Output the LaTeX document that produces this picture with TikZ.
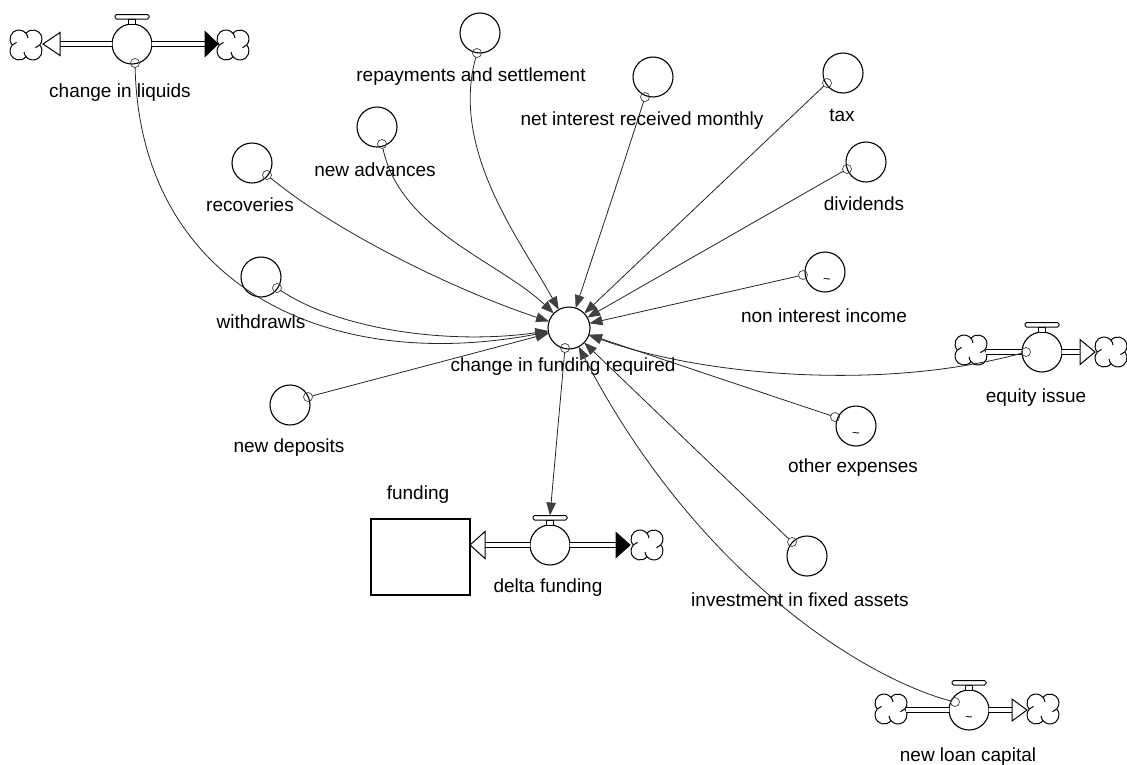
\documentclass[tikz,border=0pt]{standalone}
\usepackage{fontspec}
\setmainfont{Liberation Sans}
\usetikzlibrary{arrows.meta,calc}

% valve handle on top of a flow valve
\newcommand\vhandle[1]{%
  \draw[handle] ([shift={(-3.5,0)}]#1.north) rectangle ([shift={(3.5,-5)}]#1.north);
  \draw[handle, rounded corners=1.5pt] ([shift={(-17,-5)}]#1.north) rectangle ([shift={(17,-9.5)}]#1.north);}

% four-lobed source/sink cloud with inner curls, centred on a node
\newcommand\vcloud[1]{%
  \draw[cloudline, fill=white] ([shift={(0,-11.66)}]#1.center)
     arc[start angle=-38.96, end angle=-221.84, radius=9]
     arc[start angle=221.84, end angle=38.96, radius=9]
     arc[start angle=141.04, end angle=-41.84, radius=9]
     arc[start angle=41.84, end angle=-141.04, radius=9] -- cycle;
  \draw[cloudline] ([shift={(0,-11.66)}]#1.center) arc[start angle=-38.96, end angle=-6, radius=9];
  \draw[cloudline] ([shift={(-13.7,0)}]#1.center) arc[start angle=221.84, end angle=254, radius=9];
  \draw[cloudline] ([shift={(0,11.66)}]#1.center) arc[start angle=141.04, end angle=174, radius=9];
  \draw[cloudline] ([shift={(13.7,0)}]#1.center) arc[start angle=41.84, end angle=74, radius=9];}

\begin{document}
\begin{tikzpicture}[x=1pt,y=-1pt,
  every node/.style={inner sep=0pt, outer sep=0pt},
  aux/.style={circle, draw, line width=1.1pt, minimum size=40pt},
  valve/.style={circle, draw, line width=1.1pt, minimum size=40pt, fill=white},
  port/.style={circle, draw=black!75, line width=0.7pt, minimum size=9pt},
  cloudy/.style={circle, minimum size=30pt},
  cloudline/.style={draw, line width=1pt},
  lbl/.style={font=\fontsize{19}{22}\selectfont},
  tld/.style={font=\fontsize{13}{13}\selectfont},
  link/.style={draw=black!85, line width=0.8pt,
               -{Triangle[length=13pt,width=9.5pt,color=black!75]}},
  pipe/.style={draw, line width=1pt, double=white, double distance=3.5pt},
  headopen/.style={draw, line width=1pt, fill=white, line join=miter},
  headfull/.style={draw, line width=1pt, fill=black, line join=miter},
  handle/.style={draw, line width=1pt, fill=white},
  stock/.style={draw, line width=1.1pt, fill=white}
]
\fill[white] (0,0) rectangle (1127,764);
\useasboundingbox (0,0) rectangle (1127,764);

% ---------- central auxiliary ----------
\node[aux, minimum size=42pt] (cfr) at (569,328) {};
\node[lbl] (cfr-l) at (563,367) {change in funding required};

% ---------- auxiliaries ----------
\node[aux] (rep) at (480,33) {};
\node[lbl] (rep-l) at (471,77) {repayments and settlement};
\node[aux] (adv) at (377,127) {};
\node[lbl] (adv-l) at (375,170) {new advances};
\node[aux] (rec) at (252,163) {};
\node[lbl] (rec-l) at (250,205) {recoveries};
\node[aux] (wd) at (261,277) {};
\node[lbl] (wd-l) at (261,322) {withdrawls};
\node[aux] (dep) at (290,405) {};
\node[lbl] (dep-l) at (289,448) {new deposits};
\node[aux] (nim) at (653,77) {};
\node[lbl] (nim-l) at (642,121) {net interest received monthly};
\node[aux] (tax) at (843,73) {};
\node[lbl] (tax-l) at (842,115) {tax};
\node[aux] (div) at (866,162) {};
\node[lbl] (div-l) at (864,204) {dividends};
\node[aux] (nii) at (825,272) {};
\node[tld] (nii-t) at (827,281) {\textasciitilde};
\node[lbl] (nii-l) at (824,316) {non interest income};
\node[aux] (oe) at (856,426) {};
\node[tld] (oe-t) at (856,435) {\textasciitilde};
\node[lbl] (oe-l) at (853,468) {other expenses};
\node[aux] (inv) at (807,556) {};
\node[lbl] (inv-l) at (800,600) {investment in fixed assets};

% ---------- flow: change in liquids ----------
\node[cloudy] (c-liq-l) at (26,45) {};
\node[cloudy] (c-liq-r) at (233,45) {};
\vcloud{c-liq-l}
\vcloud{c-liq-r}
\node[valve] (v-liq) at (132,44) {};
\coordinate (h-liq-l) at (60,44);
\coordinate (h-liq-r) at (205,44);
\draw[pipe] (v-liq) -- (h-liq-l);
\draw[pipe] (v-liq) -- (h-liq-r);
\draw[headopen] (h-liq-l) ++(-17,0) -- ++(17,-11.5) -- ++(0,23) -- cycle;
\draw[headfull] (h-liq-r) ++(0,-12.5) -- ++(13,12.5) -- ++(-13,12.5) -- cycle;
\vhandle{v-liq}
\node[lbl] (liq-l) at (120,93) {change in liquids};

% ---------- stock and flow: funding / delta funding ----------
\node[stock, minimum width=99pt, minimum height=76pt] (fund) at (420.5,557) {};
\node[lbl] (fund-l) at (418,495) {funding};
\node[cloudy] (c-del) at (647,545) {};
\vcloud{c-del}
\node[valve] (v-del) at (550,545) {};
\coordinate (h-del-l) at (485,545);
\coordinate (h-del-r) at (616,545);
\draw[pipe] (v-del) -- (h-del-l);
\draw[pipe] (v-del) -- (h-del-r);
\draw[headopen] (fund.east |- h-del-l) -- ++(15,-13.5) -- ++(0,27) -- cycle;
\draw[headfull] (h-del-r) ++(0,-12.5) -- ++(14,12.5) -- ++(-14,12.5) -- cycle;
\vhandle{v-del}
\coordinate (v-del-h) at ([shift={(0,-9.5)}]v-del.north);
\node[lbl] (del-l) at (548,588) {delta funding};

% ---------- flow: equity issue ----------
\node[cloudy] (c-eq-l) at (971,350) {};
\node[cloudy] (c-eq-r) at (1111,352) {};
\vcloud{c-eq-l}
\vcloud{c-eq-r}
\node[valve] (v-eq) at (1042,352) {};
\coordinate (h-eq-r) at (1080,352);
\draw[pipe] (c-eq-l.east |- v-eq) -- (v-eq);
\draw[pipe] (v-eq) -- (h-eq-r);
\draw[headopen] (h-eq-r) ++(0,-12.5) -- ++(15,12.5) -- ++(-15,12.5) -- cycle;
\vhandle{v-eq}
\node[lbl] (eq-l) at (1036,398) {equity issue};

% ---------- flow: new loan capital ----------
\node[cloudy] (c-nlc-l) at (891,709) {};
\node[cloudy] (c-nlc-r) at (1043,709) {};
\vcloud{c-nlc-l}
\vcloud{c-nlc-r}
\node[valve] (v-nlc) at (969,710) {};
\node[tld] (nlc-t) at (969,719) {\textasciitilde};
\coordinate (h-nlc-r) at (1012,710);
\draw[pipe] (c-nlc-l.east |- v-nlc) -- (v-nlc);
\draw[pipe] (v-nlc) -- (h-nlc-r);
\draw[headopen] (h-nlc-r) ++(0,-11) -- ++(15,11) -- ++(-15,11) -- cycle;
\vhandle{v-nlc}
\node[lbl] (nlc-l) at (968,757) {new loan capital};

% ---------- link tails ----------
\node[port] (p-liq) at (135,63) {};
\node[port] (p-rep) at (477,53) {};
\node[port] (p-adv) at (382,144) {};
\node[port] (p-rec) at (267,175) {};
\node[port] (p-wd)  at (277,288) {};
\node[port] (p-dep) at (308,397) {};
\node[port] (p-nim) at (645,97) {};
\node[port] (p-tax) at (827,83) {};
\node[port] (p-div) at (847,169) {};
\node[port] (p-nii) at (803,275) {};
\node[port] (p-eq)  at (1026,352) {};
\node[port] (p-oe)  at (835,417) {};
\node[port] (p-inv) at (792,542) {};
\node[port] (p-nlc) at (955,702) {};
\node[port] (p-cfr) at (565,348) {};

% ---------- links into change in funding required ----------
\draw[link] (p-liq) .. controls (140,280) and (320,375) .. (cfr);
\draw[link] (p-wd)  .. controls (340,330) and (450,345) .. (cfr);
\draw[link] (p-dep) -- (cfr);
\draw[link] (p-rec) .. controls (340,235) and (460,292) .. (cfr);
\draw[link] (p-adv) .. controls (400,230) and (500,262) .. (cfr);
\draw[link] (p-rep) .. controls (450,150) and (520,240) .. (cfr);
\draw[link] (p-nim) .. controls (625,160) and (595,250) .. (cfr);
\draw[link] (p-tax) -- (cfr);
\draw[link] (p-div) -- (cfr);
\draw[link] (p-nii) -- (cfr);
\draw[link] (p-eq)  .. controls (880,392) and (700,375) .. (cfr);
\draw[link] (p-oe)  -- (cfr);
\draw[link] (p-inv) -- (cfr);
\draw[link] (p-nlc) .. controls (870,680) and (700,580) .. (cfr);
\draw[link] (p-cfr) -- (v-del-h);
\end{tikzpicture}
\end{document}
